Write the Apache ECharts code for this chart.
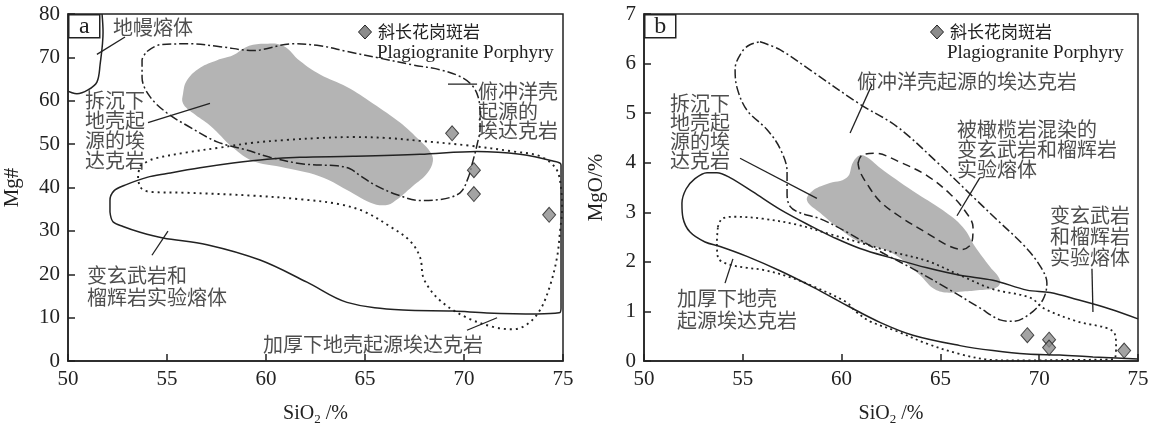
<!DOCTYPE html>
<html>
<head>
<meta charset="utf-8">
<script src="https://cdn.jsdelivr.net/npm/echarts@6/dist/echarts.min.js"></script>
<style>
html, body { margin: 0; padding: 0; background: #fff; }
#chart { width: 1152px; height: 431px; }
</style>
</head>
<body>
<div id="chart"></div>
<script>
// 样品点 斜长花岗斑岩
var sampleSiO2 = [69.4, 70.5, 70.5, 74.3];
var sampleMgNum = [52.5, 44.0, 38.5, 33.7];
var sampleMgO = [0.52, 0.43, 0.27, 0.21];

// 图 a：SiO2 - Mg#
var aMantle = [[51.72, 80], [51.77, 75.8], [51.62, 68.3], [51.46, 64.3], [51.01, 62.5], [50.45, 61.6], [50.1, 62.0], [50, 62.2]];
var aOceanic = [[53.99, 71.36], [54.65, 72.91], [56.16, 73.13], [57.68, 72.47], [59.34, 71.58], [61.36, 73.13], [62.73, 72.69],
  [64.09, 71.36], [65.76, 69.81], [67.42, 68.26], [68.79, 67.15], [69.8, 65.6], [70.4, 63.6], [70.71, 60.94], [70.81, 57.17],
  [70.81, 53.63], [70.66, 49.86], [70.45, 46.09], [70.2, 42.11], [69.8, 38.78], [68.79, 37.23], [67.78, 37.01], [66.62, 38.34],
  [65.51, 40.55], [64.75, 42.77], [64.24, 44.32], [63.59, 44.99], [61.87, 45.43], [60.2, 46.98], [58.94, 48.75], [57.53, 50.53],
  [56.01, 54.29], [55.0, 57.17], [54.14, 60.94], [53.74, 65.37], [53.74, 69.36]];
var aDelaminated = [[55.81, 61.61], [56.01, 64.71], [56.67, 67.59], [57.53, 69.36], [58.33, 70.47], [59.04, 72.47], [59.85, 73.13],
  [60.86, 72.69], [61.72, 69.14], [62.73, 66.04], [64.09, 63.16], [65.4, 59.39], [66.77, 54.96], [67.63, 51.41], [68.28, 48.31],
  [68.43, 46.09], [68.13, 43.21], [67.42, 40.33], [66.41, 36.57], [65.91, 35.9], [65.25, 36.57], [64.09, 39.45], [62.73, 42.55],
  [60.71, 44.76], [59.34, 46.09], [58.33, 49.2], [57.17, 54.29], [56.31, 57.17], [55.81, 59.39]];
var aMetabasalt = [[52.12, 34.35], [52.12, 37.01], [52.32, 39.22], [52.88, 40.55], [53.99, 42.33], [55.0, 43.21], [56.67, 44.54],
  [58.33, 45.65], [60.05, 46.54], [61.72, 46.98], [64.39, 47.2], [67.78, 47.65], [70.66, 48.31], [72.83, 47.65], [74.49, 46.09],
  [74.9, 45.2], [74.9, 12.19], [74.8, 11.1], [73.69, 10.86], [71.16, 11.08], [69.44, 11.52], [66.92, 11.75], [64.09, 13.52],
  [62.07, 18.17], [59.7, 23.27], [57.02, 26.81], [54.8, 28.37], [53.64, 29.7], [52.78, 31.02], [52.27, 32.13]];
var aThickened = [[53.64, 44.99], [54.29, 46.54], [56.01, 48.09], [57.68, 49.2], [59.34, 50.31], [61.06, 50.97], [62.73, 51.41],
  [64.39, 51.63], [66.11, 51.41], [67.78, 50.75], [70.3, 49.64], [72.47, 48.31], [73.84, 47.2], [74.65, 44.32], [74.9, 39.89],
  [74.95, 35.01], [74.85, 29.92], [74.7, 23.93], [74.34, 17.29], [73.84, 11.75], [73.18, 8.42], [72.47, 7.31], [71.57, 7.76],
  [70.15, 9.97], [68.79, 13.96], [67.98, 18.84], [67.78, 23.93], [67.27, 27.7], [66.26, 31.02], [65.0, 34.35], [63.74, 36.12],
  [61.87, 37.23], [59.34, 38.12], [56.01, 38.78], [54.14, 39.0], [53.69, 39.89], [53.54, 42.55]];

// 图 b：SiO2 - MgO
var bOceanic = [[55.87, 6.44], [56.88, 6.28], [58.55, 5.83], [60.93, 5.18], [62.8, 4.73], [64.83, 4.01], [66.5, 3.37], [67.86, 2.85],
  [69.18, 2.35], [70.04, 1.92], [70.39, 1.57], [70.19, 1.24], [69.53, 0.95], [68.67, 0.8], [68.02, 0.83], [67.0, 1.07],
  [65.33, 1.47], [63.61, 1.86], [61.94, 2.21], [60.27, 2.6], [58.91, 2.87], [57.89, 2.99], [57.39, 3.12], [57.24, 3.37],
  [57.24, 3.82], [56.88, 4.29], [56.22, 4.67], [55.21, 5.06], [54.71, 5.51], [54.61, 5.89], [54.96, 6.24], [55.36, 6.38]];
var bDelaminated = [[58.25, 3.24], [58.52, 3.43], [59.26, 3.57], [60.27, 3.7], [60.58, 4.01], [60.93, 4.15], [61.29, 4.11],
  [61.94, 3.9], [63.61, 3.43], [65.13, 3.04], [66.14, 2.7], [66.75, 2.31], [67.51, 1.9], [68.02, 1.63], [67.86, 1.49],
  [67.0, 1.43], [66.14, 1.4], [65.33, 1.38], [64.63, 1.47], [63.97, 1.73], [62.6, 2.17], [60.93, 2.4], [59.92, 2.66], [58.91, 2.99]];
var bPeridotite = [[60.83, 3.99], [61.03, 4.15], [61.69, 4.19], [62.96, 4.01], [64.32, 3.74], [65.49, 3.37], [66.24, 3.03],
  [66.65, 2.7], [66.6, 2.4], [66.09, 2.25], [65.38, 2.33], [64.32, 2.58], [62.96, 2.91], [61.94, 3.22], [61.29, 3.57], [60.93, 3.82]];
var bMetabasalt = [[75.0, 0.85], [73.58, 1.05], [71.91, 1.24], [70.55, 1.38], [69.38, 1.43], [67.66, 1.63], [65.99, 1.73],
  [64.32, 1.88], [62.6, 2.07], [60.93, 2.27], [59.56, 2.5], [58.55, 2.7], [56.88, 3.06], [55.52, 3.41], [54.35, 3.7],
  [53.69, 3.8], [53.19, 3.8], [52.58, 3.68], [52.13, 3.47], [51.92, 3.18], [51.97, 2.89], [52.33, 2.6], [53.09, 2.4],
  [53.85, 2.31], [55.21, 2.11], [56.88, 1.82], [58.55, 1.49], [60.27, 1.12], [61.94, 0.78], [63.61, 0.52], [65.99, 0.31],
  [67.66, 0.21], [69.38, 0.14], [71.05, 0.12], [72.72, 0.08], [75.0, 0.04]];
var bThickened = [[53.74, 2.7], [53.95, 2.87], [54.61, 2.91], [56.02, 2.87], [57.74, 2.75], [59.41, 2.56], [61.08, 2.37],
  [62.45, 2.21], [64.32, 2.02], [65.99, 1.73], [67.66, 1.45], [69.53, 1.28], [70.29, 1.05], [71.91, 0.8], [73.73, 0.6],
  [73.89, 0.31], [73.79, 0.04], [71.05, 0.02], [69.38, 0.01], [67.66, 0.02], [65.99, 0.14], [64.32, 0.35], [62.8, 0.6],
  [61.44, 0.8], [60.68, 1.01], [60.27, 1.18], [58.55, 1.51], [57.24, 1.71], [56.02, 1.84], [55.21, 1.88], [54.2, 1.96],
  [53.74, 2.09], [53.69, 2.4]];

// 引线
var aLeaders = [[[51.46, 70.7], [52.88, 74.7]], [[54.04, 54.96], [57.17, 59.39]], [[69.19, 63.82], [70.66, 63.82]],
  [[54.24, 24.38], [55.05, 29.92]], [[70.15, 7.09], [71.67, 9.97]]];
var bLeaders = [[[61.54, 5.58], [60.43, 4.6]], [[54.86, 4.09], [58.75, 3.28]], [[67.0, 3.7], [65.84, 2.93]],
  [[72.67, 1.86], [72.72, 0.99]], [[54.1, 1.57], [54.5, 2.06]]];

// 文字标注 [x, y(文字顶部), 文字, 行高]
var aTexts = [[52.27, 79.3, '地幔熔体', 20], [50.86, 62.5, '拆沉下\n地壳起\n源的埃\n达克岩', 20],
  [70.71, 64.3, '俯冲洋壳\n起源的\n埃达克岩', 19.5], [50.96, 22.2, '变玄武岩和\n榴辉岩实验熔体', 22],
  [59.85, 6.2, '加厚下地壳起源埃达克岩', 20]];
var bTexts = [[60.78, 5.84, '俯冲洋壳起源的埃达克岩', 20], [51.32, 5.39, '拆沉下\n地壳起\n源的埃\n达克岩', 19],
  [65.84, 4.87, '被橄榄岩混染的\n变玄武岩和榴辉岩\n实验熔体', 20], [70.55, 3.14, '变玄武岩\n和榴辉岩\n实验熔体', 21],
  [51.67, 1.49, '加厚下地壳\n起源埃达克岩', 22]];

var serif = '"Liberation Serif", "DejaVu Serif", serif';
var cjk = '"Noto Sans CJK SC", sans-serif';
var ink = '#222';

function outline(data, idx, dash, closed, w) {
  return {
    type: 'line', xAxisIndex: idx, yAxisIndex: idx, silent: true, z: 3,
    data: closed ? data.concat([data[0]]) : data,
    smooth: 0.35, symbol: 'none',
    lineStyle: { color: ink, width: w || 1.5, type: dash }
  };
}

function greyArea(data, idx) {
  return {
    type: 'custom', xAxisIndex: idx, yAxisIndex: idx, silent: true, z: 1,
    data: data,
    renderItem: function (params, api) {
      if (params.dataIndex !== 0) return null;
      var pts = data.map(function (p) { return api.coord(p); });
      return { type: 'polygon', shape: { points: pts, smooth: 0.4 }, style: { fill: '#b4b4b4' } };
    }
  };
}

function leader(pair, idx) {
  return {
    type: 'line', xAxisIndex: idx, yAxisIndex: idx, silent: true, z: 4,
    data: pair, symbol: 'none', lineStyle: { color: ink, width: 1.3 }
  };
}

function notes(items, idx) {
  return {
    type: 'scatter', xAxisIndex: idx, yAxisIndex: idx, silent: true, z: 5,
    symbolSize: 0,
    data: items.map(function (t) {
      return { value: [t[0], t[1]], label: { formatter: t[2], lineHeight: t[3] } };
    }),
    label: { show: true, position: [0, 0], align: 'left', verticalAlign: 'top',
      fontSize: 20, fontFamily: cjk, color: ink }
  };
}

function samples(ys, idx) {
  return {
    type: 'scatter', xAxisIndex: idx, yAxisIndex: idx, silent: true, z: 6,
    data: sampleSiO2.map(function (x, i) { return [x, ys[i]]; }),
    symbol: 'diamond', symbolSize: [13, 15],
    itemStyle: { color: '#8c8c8c', borderColor: ink, borderWidth: 1 }
  };
}

function xAxis(idx) {
  return {
    type: 'value', gridIndex: idx, min: 50, max: 75, interval: 5,
    name: '{a|SiO}{s|2}{a| /%}', nameLocation: 'middle', nameGap: 40,
    nameTextStyle: { rich: { a: { fontSize: 20, fontFamily: serif, color: ink },
      s: { fontSize: 13, fontFamily: serif, color: ink, padding: [12, 0, 0, 0] } } },
    axisLine: { show: true, lineStyle: { color: ink, width: 1.5 } },
    axisTick: { show: true, inside: true, length: 7, lineStyle: { color: ink, width: 1.5 } },
    axisLabel: { fontSize: 21, fontFamily: serif, color: ink, margin: 8 },
    splitLine: { show: false }
  };
}

function yAxis(idx, max, step, name, gap) {
  return {
    type: 'value', gridIndex: idx, min: 0, max: max, interval: step,
    name: name, nameLocation: 'middle', nameGap: gap,
    nameTextStyle: { fontSize: 21, fontFamily: serif, color: ink },
    axisLine: { show: true, lineStyle: { color: ink, width: 1.5 } },
    axisTick: { show: true, inside: true, length: 7, lineStyle: { color: ink, width: 1.5 } },
    axisLabel: { fontSize: 21, fontFamily: serif, color: ink, margin: 8 },
    splitLine: { show: false }
  };
}

function panelTag(letter, left, top) {
  return { type: 'group', left: left, top: top, z: 10, children: [
    { type: 'rect', shape: { x: 0, y: 0, width: 31, height: 23 }, style: { fill: '#fff', stroke: ink, lineWidth: 1.5 } },
    { type: 'text', x: 15.5, y: 11.5, style: { text: letter, font: '24px ' + serif, fill: ink, align: 'center', verticalAlign: 'middle' } }
  ] };
}

function legendBlock(dx, tx, px) {
  return [
    { type: 'polygon', z: 10, shape: { points: [[dx, 25], [dx + 6.5, 32], [dx, 39], [dx - 6.5, 32]] },
      style: { fill: '#8c8c8c', stroke: ink, lineWidth: 1 } },
    { type: 'text', z: 10, x: tx, y: 32, style: { text: '斜长花岗斑岩', font: '17px ' + cjk, fill: ink, verticalAlign: 'middle' } },
    { type: 'text', z: 10, x: px, y: 53, style: { text: 'Plagiogranite Porphyry', font: '19px ' + serif, fill: ink, verticalAlign: 'middle' } }
  ];
}

var series = [
  greyArea(aDelaminated, 0),
  outline(aMantle, 0, 'solid', false),
  outline(aOceanic, 0, [9, 3, 2, 3], true),
  outline(aMetabasalt, 0, 'solid', true),
  outline(aThickened, 0, [2, 4], true, 1.9),
  greyArea(bDelaminated, 1),
  outline(bOceanic, 1, [9, 3, 2, 3], true),
  outline(bPeridotite, 1, [8, 5], true),
  outline(bMetabasalt, 1, 'solid', false),
  outline(bThickened, 1, [2, 3.5], true, 1.8),
  notes(aTexts, 0),
  notes(bTexts, 1),
  samples(sampleMgNum, 0),
  samples(sampleMgO, 1)
];
aLeaders.forEach(function (p) { series.push(leader(p, 0)); });
bLeaders.forEach(function (p) { series.push(leader(p, 1)); });

var chart = echarts.init(document.getElementById('chart'));
chart.setOption({
  animation: false,
  backgroundColor: '#fff',
  grid: [
    { left: 68, top: 14, width: 495, height: 361, show: true, borderColor: ink, borderWidth: 1.5, containLabel: false },
    { left: 644, top: 14, width: 494, height: 361, show: true, borderColor: ink, borderWidth: 1.5, containLabel: false }
  ],
  xAxis: [xAxis(0), xAxis(1)],
  yAxis: [yAxis(0, 80, 10, 'Mg#', 45), yAxis(1, 7, 1, 'MgO/%', 37)],
  graphic: [panelTag('a', 68, 14), panelTag('b', 644, 14)]
    .concat(legendBlock(365, 378, 377))
    .concat(legendBlock(937, 950, 947)),
  series: series
});
</script>
</body>
</html>
